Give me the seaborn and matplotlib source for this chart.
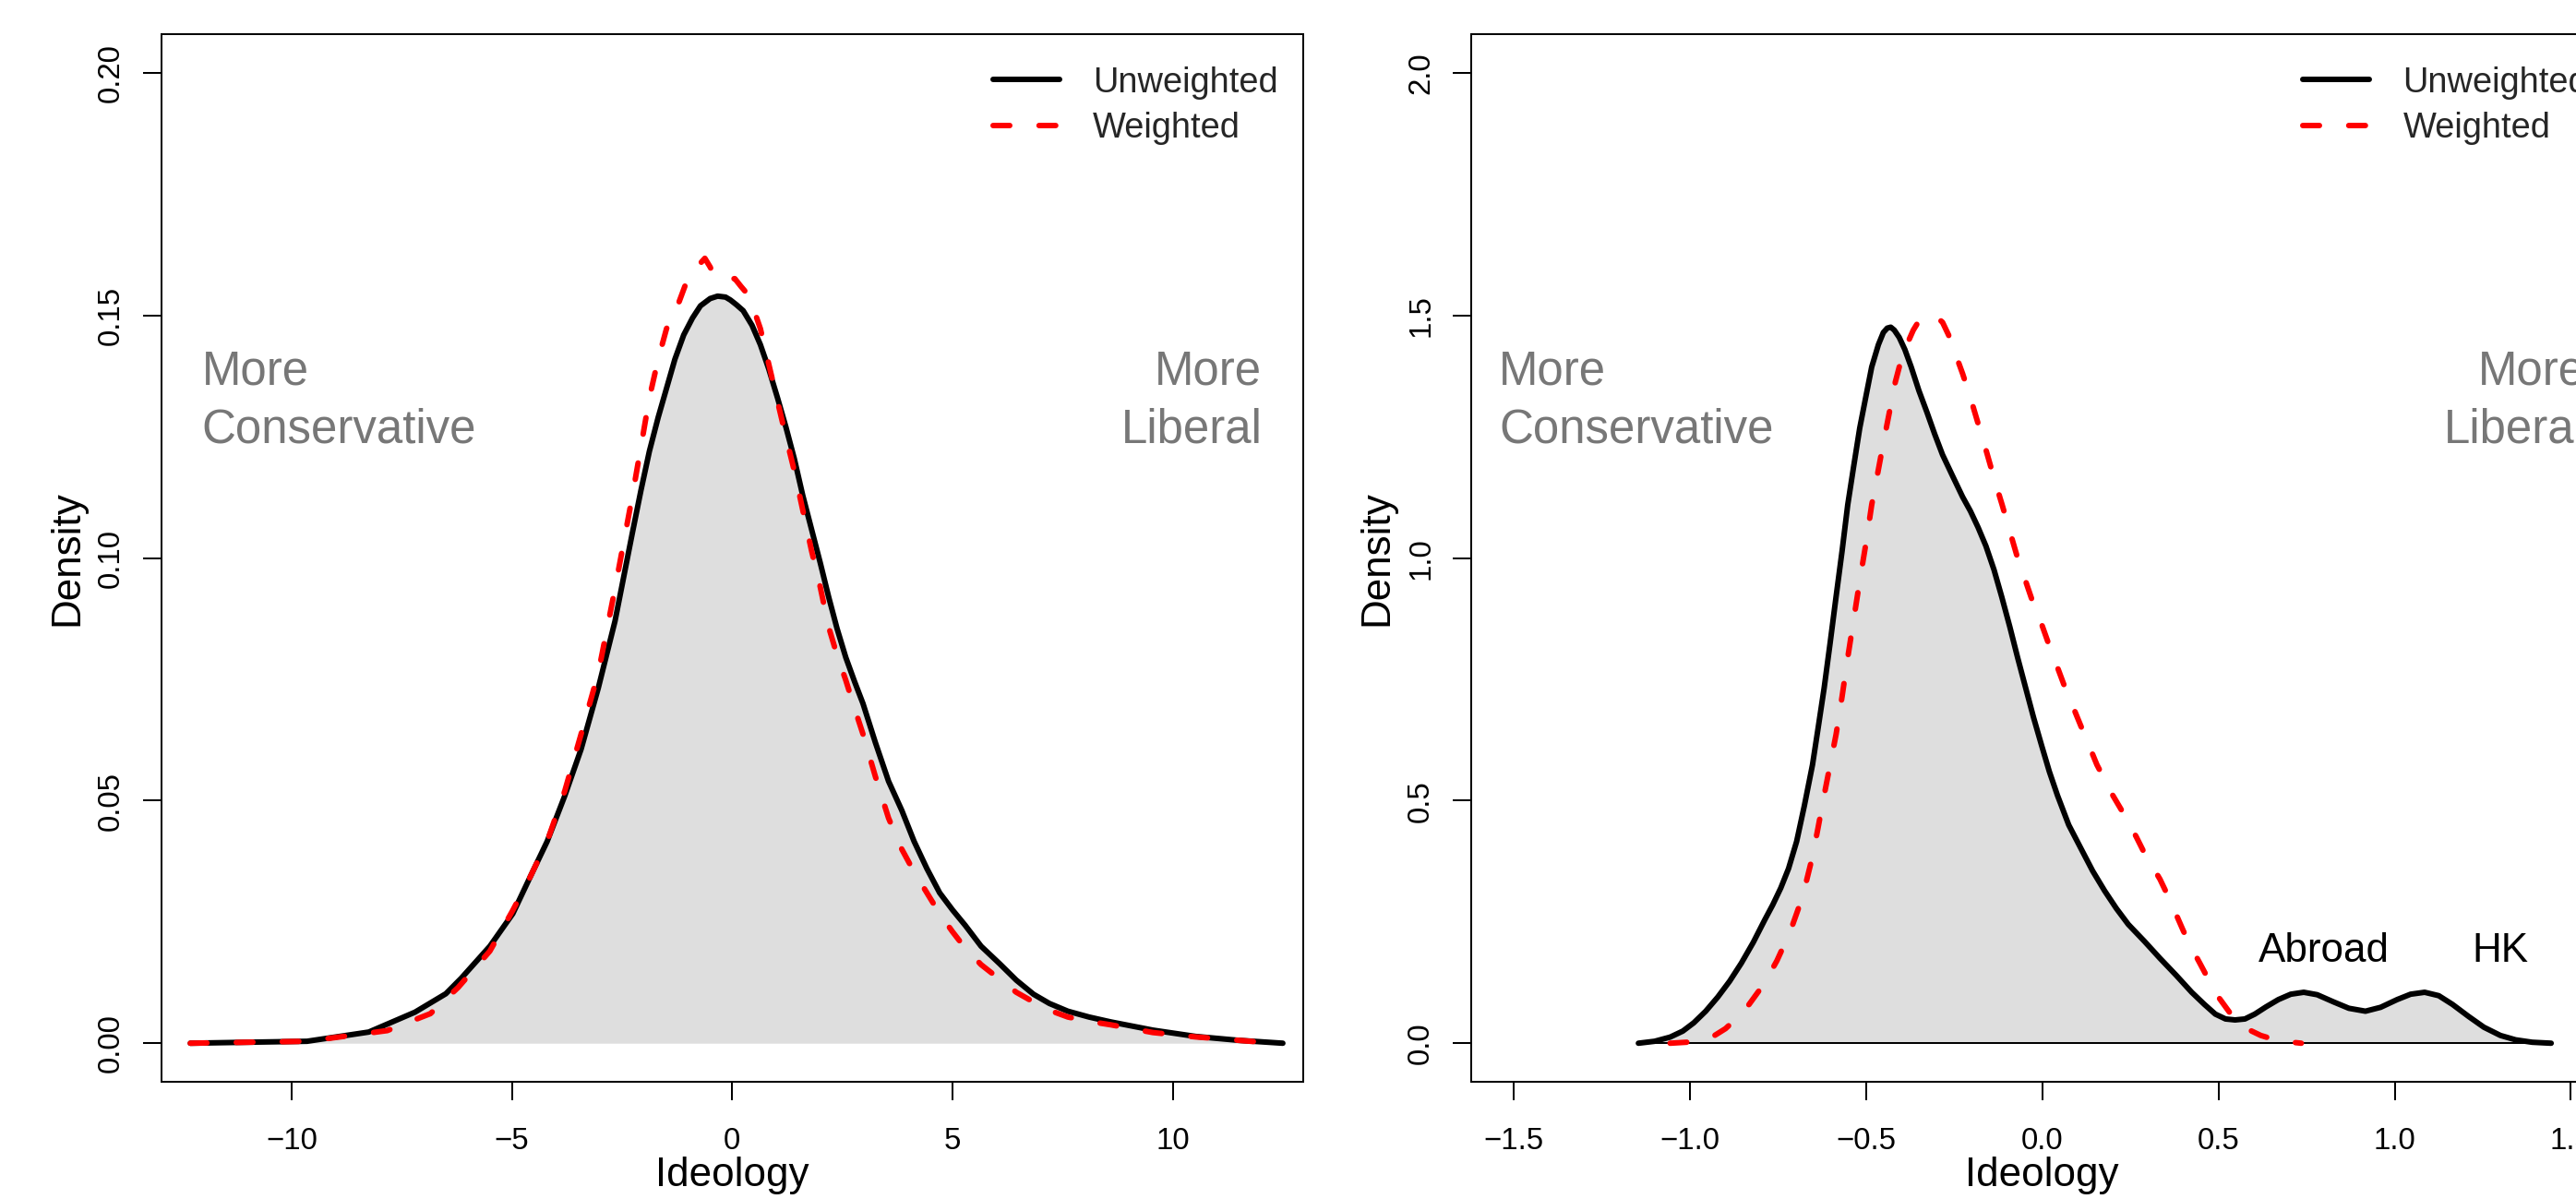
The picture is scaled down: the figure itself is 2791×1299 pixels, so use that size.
import matplotlib
matplotlib.use("Agg")
import matplotlib.pyplot as plt
import seaborn as sns

# Left panel: ideology density, unweighted vs weighted
left_unw_x = [-12.3, -11.0, -9.65, -8.25, -7.2, -6.5, -6.15, -5.5, -4.98, -4.6, -4.2, -3.8,
              -3.43, -3.04, -2.66, -2.27, -2.07, -1.88, -1.68, -1.49, -1.30, -1.10, -0.90,
              -0.72, -0.50, -0.33, -0.15, -0.04, 0.10, 0.25, 0.45, 0.64, 0.83, 1.03, 1.22,
              1.41, 1.60, 1.80, 2.0, 2.19, 2.38, 2.58, 2.78, 2.97, 3.25, 3.55, 3.85, 4.13,
              4.42, 4.71, 5.0, 5.29, 5.65, 6.07, 6.45, 6.84, 7.2, 7.62, 8.1, 8.59, 9.55,
              10.52, 11.49, 12.5]
left_unw_y = [0.0, 0.0002, 0.0004, 0.0023, 0.0064, 0.0102, 0.0134, 0.020, 0.0267, 0.034,
              0.0416, 0.051, 0.0606, 0.0732, 0.087, 0.105, 0.114, 0.122, 0.129, 0.135, 0.141,
              0.146, 0.1495, 0.152, 0.1535, 0.154, 0.1538, 0.1532, 0.1522, 0.151, 0.148,
              0.144, 0.139, 0.133, 0.127, 0.1205, 0.113, 0.106, 0.099, 0.092, 0.0855, 0.0795,
              0.0745, 0.070, 0.062, 0.054, 0.048, 0.0416, 0.036, 0.031, 0.0275, 0.0243, 0.020,
              0.0164, 0.013, 0.0101, 0.0082, 0.0066, 0.0054, 0.0044, 0.0027, 0.0014, 0.0006,
              0.0]
left_w_x = [-12.3, -11.0, -9.65, -7.83, -6.85, -6.22, -5.5, -4.98, -4.6, -4.2, -3.8, -3.43,
            -3.04, -2.66, -2.27, -2.07, -1.88, -1.68, -1.49, -1.30, -1.01, -0.80, -0.62,
            -0.50, -0.40, -0.20, 0.06, 0.20, 0.35, 0.50, 0.64, 0.83, 1.03, 1.22, 1.41, 1.60,
            1.80, 2.0, 2.19, 2.38, 2.58, 2.78, 2.97, 3.25, 3.55, 3.85, 4.13, 4.42, 4.71,
            5.0, 5.29, 5.65, 6.07, 6.45, 6.84, 7.2, 7.62, 8.1, 8.59, 9.55, 10.52, 11.49, 12.3]
left_w_y = [0.0, 0.0002, 0.0004, 0.0026, 0.0061, 0.0115, 0.019, 0.0274, 0.034, 0.0416, 0.052,
            0.0637, 0.0763, 0.0937, 0.1126, 0.123, 0.133, 0.141, 0.1473, 0.1505, 0.1576,
            0.160, 0.1618, 0.160, 0.158, 0.1575, 0.1576, 0.156, 0.1544, 0.151, 0.1473, 0.140,
            0.1323, 0.125, 0.118, 0.110, 0.1016, 0.094, 0.0858, 0.080, 0.0748, 0.069, 0.0637,
            0.055, 0.0464, 0.040, 0.0353, 0.031, 0.0267, 0.023, 0.0196, 0.0162, 0.0132, 0.0105,
            0.0085, 0.0068, 0.0054, 0.0045, 0.0038, 0.0022, 0.0013, 0.0006, 0.0]

# Right panel
right_unw_x = [-1.146, -1.10, -1.056, -1.02, -0.989, -0.955, -0.921, -0.887, -0.854, -0.82,
               -0.787, -0.765, -0.742, -0.72, -0.697, -0.675, -0.652, -0.636, -0.619, -0.602,
               -0.585, -0.568, -0.552, -0.535, -0.518, -0.50, -0.484, -0.465, -0.451, -0.44,
               -0.43, -0.42, -0.406, -0.39, -0.372, -0.35, -0.327, -0.305, -0.283, -0.255,
               -0.226, -0.204, -0.182, -0.16, -0.137, -0.115, -0.092, -0.07, -0.047, -0.025,
               -0.002, 0.02, 0.043, 0.075, 0.110, 0.143, 0.177, 0.21, 0.244, 0.29, 0.334,
               0.38, 0.424, 0.46, 0.491, 0.52, 0.547, 0.575, 0.603, 0.635, 0.670, 0.705, 0.742,
               0.78, 0.827, 0.87, 0.917, 0.96, 1.007, 1.045, 1.085, 1.125, 1.164, 1.21, 1.253,
               1.30, 1.343, 1.39, 1.444]
right_unw_y = [0.0, 0.004, 0.0126, 0.025, 0.042, 0.066, 0.095, 0.128, 0.165, 0.208, 0.255,
               0.285, 0.32, 0.36, 0.416, 0.49, 0.574, 0.65, 0.732, 0.825, 0.921, 1.015, 1.110,
               1.19, 1.268, 1.335, 1.394, 1.44, 1.465, 1.474, 1.476, 1.47, 1.455, 1.43, 1.394,
               1.345, 1.30, 1.255, 1.213, 1.17, 1.126, 1.097, 1.063, 1.025, 0.976, 0.92, 0.858,
               0.795, 0.732, 0.672, 0.614, 0.56, 0.511, 0.45, 0.401, 0.355, 0.314, 0.278,
               0.245, 0.21, 0.175, 0.14, 0.105, 0.08, 0.06, 0.05, 0.048, 0.05, 0.06, 0.075,
               0.09, 0.101, 0.105, 0.10, 0.085, 0.072, 0.066, 0.074, 0.09, 0.101, 0.105, 0.098,
               0.08, 0.055, 0.033, 0.016, 0.007, 0.002, 0.0]
right_w_x = [-1.056, -1.01, -0.966, -0.932, -0.899, -0.866, -0.832, -0.804, -0.776, -0.753,
             -0.731, -0.708, -0.686, -0.669, -0.652, -0.636, -0.619, -0.602, -0.585, -0.568,
             -0.552, -0.535, -0.518, -0.50, -0.484, -0.467, -0.451, -0.434, -0.417, -0.40,
             -0.383, -0.366, -0.350, -0.333, -0.316, -0.30, -0.283, -0.266, -0.249, -0.226,
             -0.204, -0.182, -0.159, -0.137, -0.114, -0.092, -0.070, -0.047, -0.025, 0.0,
             0.020, 0.043, 0.065, 0.088, 0.110, 0.133, 0.155, 0.178, 0.200, 0.222, 0.244,
             0.267, 0.289, 0.312, 0.334, 0.357, 0.379, 0.40, 0.424, 0.447, 0.469, 0.50, 0.54,
             0.58, 0.62, 0.67, 0.735]
right_w_y = [0.0, 0.002, 0.006, 0.015, 0.030, 0.052, 0.08, 0.108, 0.14, 0.17, 0.205, 0.245,
             0.29, 0.335, 0.385, 0.445, 0.511, 0.574, 0.637, 0.715, 0.795, 0.874, 0.953,
             1.032, 1.110, 1.175, 1.237, 1.30, 1.363, 1.41, 1.442, 1.47, 1.489, 1.498, 1.50,
             1.497, 1.486, 1.46, 1.426, 1.38, 1.331, 1.277, 1.221, 1.165, 1.110, 1.055, 1.0,
             0.952, 0.905, 0.86, 0.819, 0.775, 0.732, 0.692, 0.653, 0.613, 0.574, 0.542, 0.511,
             0.484, 0.456, 0.425, 0.393, 0.365, 0.338, 0.303, 0.267, 0.232, 0.196, 0.165,
             0.135, 0.095, 0.055, 0.03, 0.016, 0.005, 0.0]

left_xticks = [-10, -5, 0, 5, 10]
left_xlabels = ["\u221210", "\u22125", "0", "5", "10"]
left_yticks = [0.0, 0.05, 0.10, 0.15, 0.20]
left_ylabels = ["0.00", "0.05", "0.10", "0.15", "0.20"]
right_xticks = [-1.5, -1.0, -0.5, 0.0, 0.5, 1.0, 1.5]
right_xlabels = ["\u22121.5", "\u22121.0", "\u22120.5", "0.0", "0.5", "1.0", "1.5"]
right_yticks = [0.0, 0.5, 1.0, 1.5, 2.0]
right_ylabels = ["0.0", "0.5", "1.0", "1.5", "2.0"]

sns.set_theme(style="ticks")
plt.rcParams["font.family"] = ["Liberation Sans", "DejaVu Sans"]
plt.rcParams["axes.unicode_minus"] = True

W, H = 2791, 1299
fig = plt.figure(figsize=((W + 0.3) / 72, (H + 0.3) / 72), dpi=72)
fig.patch.set_facecolor("white")

ax_w = 1237 / W
ax_h = 1135 / H
ax_b = (H - 1172.3) / H
ax1 = fig.add_axes([174.7 / W, ax_b, ax_w, ax_h])
ax2 = fig.add_axes([1594 / W, ax_b, ax_w, ax_h])

GREY_TXT = "#777777"
FILL = "#DEDEDE"
DASH = (0, (3, 5.3))


def panel(ax, ux, uy, wx, wy, xlim, ylim, xt, xl, yt, yl, baseline):
    ax.fill_between(ux, uy, 0, color=FILL, lw=0, zorder=1)
    if baseline:
        sns.lineplot(x=[ux[0], ux[-1]], y=[0, 0], ax=ax, color="black", lw=2,
                     estimator=None, zorder=2)
    sns.lineplot(x=ux, y=uy, ax=ax, color="black", lw=6, estimator=None,
                 solid_capstyle="round", solid_joinstyle="round", zorder=3)
    h_unw = ax.get_lines()[-1]
    sns.lineplot(x=wx, y=wy, ax=ax, color="#FF0000", lw=6, estimator=None,
                 linestyle=DASH, dash_capstyle="round", dash_joinstyle="round", zorder=4)
    h_w = ax.get_lines()[-1]

    ax.set_xlim(*xlim)
    ax.set_ylim(*ylim)
    ax.set_facecolor("white")
    for s in ax.spines.values():
        s.set_visible(True)
        s.set_color("black")
        s.set_linewidth(2)
    ax.set_xticks(xt, xl)
    ax.set_yticks(yt, yl, rotation=90, va="center")
    ax.tick_params(axis="both", direction="out", length=20, width=2, color="black",
                   labelsize=33, labelcolor="black")
    ax.tick_params(axis="x", pad=28)
    ax.tick_params(axis="y", pad=19)

    ax.set_xlabel("Ideology", fontsize=44, color="black")
    ax.set_ylabel("Density", fontsize=44, color="black")
    ax.xaxis.set_label_coords(0.5, -0.071)
    ax.yaxis.set_label_coords(-0.066, 0.5)

    ax.legend(handles=[h_unw, h_w], labels=["Unweighted", "Weighted"],
              loc="upper left", bbox_to_anchor=(0.7283, 0.9697), frameon=False,
              fontsize=38, handlelength=1.9, handletextpad=0.95, labelspacing=0.36,
              borderpad=0, borderaxespad=0)


panel(ax1, left_unw_x, left_unw_y, left_w_x, left_w_y, (-12.96, 12.96), (-0.008, 0.208),
      left_xticks, left_xlabels, left_yticks, left_ylabels, False)
panel(ax2, right_unw_x, right_unw_y, right_w_x, right_w_y, (-1.62, 1.62), (-0.08, 2.08),
      right_xticks, right_xlabels, right_yticks, right_ylabels, True)

# multi-line text: 'baseline' anchors the last line
ax1.text(-12.04, 0.1238, "More\nConservative", fontsize=51, color=GREY_TXT,
         ha="left", va="baseline", linespacing=1.37)
ax1.text(12.03, 0.1238, "More\nLiberal", fontsize=51, color=GREY_TXT,
         ha="right", va="baseline", multialignment="right", linespacing=1.37)
ax2.text(-1.541, 1.238, "More\nConservative", fontsize=51, color=GREY_TXT,
         ha="left", va="baseline", linespacing=1.37)
ax2.text(1.541, 1.238, "More\nLiberal", fontsize=51, color=GREY_TXT,
         ha="right", va="baseline", multialignment="right", linespacing=1.37)
ax2.text(0.80, 0.168, "Abroad", fontsize=44, color="black", ha="center", va="baseline")
ax2.text(1.30, 0.168, "HK", fontsize=44, color="black", ha="center", va="baseline")

fig.savefig("out.png", dpi=72, facecolor="white")
